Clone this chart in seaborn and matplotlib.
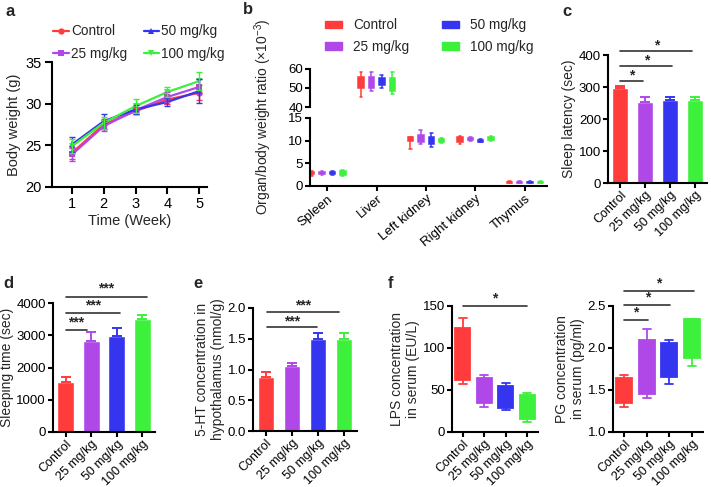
import numpy as np
import pandas as pd
import matplotlib
matplotlib.use("Agg")
import matplotlib.pyplot as plt
import seaborn as sns
from matplotlib.patches import Patch
from matplotlib.lines import Line2D

# ---------------- data ----------------
groups = ["Control", "25 mg/kg", "50 mg/kg", "100 mg/kg"]
colors = ["#FF3B3B", "#B048E8", "#3535F0", "#3CF03C"]
markers = ["o", "s", "^", "v"]

# panel a: body weight
weeks = [1, 2, 3, 4, 5]
bw_control = [24.1, 27.5, 29.1, 30.5, 31.3]
bw_25 = [23.9, 27.3, 29.2, 30.8, 32.0]
bw_50 = [25.1, 27.9, 29.3, 30.2, 31.5]
bw_100 = [24.9, 27.7, 29.7, 31.4, 32.7]
bw_err_control = [0.7, 0.6, 0.4, 0.5, 0.9]
bw_err_25 = [0.8, 0.6, 0.4, 0.6, 0.9]
bw_err_50 = [0.9, 0.9, 0.5, 0.5, 1.4]
bw_err_100 = [0.8, 0.7, 0.8, 0.6, 1.1]

# panel b: organ/body weight ratio, box stats [min, q1, median, q3, max] per group
organs = ["Spleen", "Liver", "Left kidney", "Right kidney", "Thymus"]
spleen = [[2.3, 2.6, 2.8, 3.0, 3.2], [2.4, 2.6, 2.8, 3.0, 3.2], [2.4, 2.6, 2.8, 3.0, 3.2], [2.2, 2.5, 2.9, 3.3, 3.6]]
liver = [[45.5, 50.0, 53.0, 56.0, 58.5], [48.5, 50.0, 52.5, 56.0, 58.5], [50.0, 51.5, 53.0, 55.5, 57.0], [47.0, 48.5, 52.0, 55.0, 58.5]]
left_kidney = [[8.2, 10.0, 10.4, 10.8, 10.9], [9.3, 9.8, 10.5, 11.3, 12.3], [8.5, 9.3, 10.0, 10.9, 11.8], [9.5, 9.7, 10.0, 10.3, 10.6]]
right_kidney = [[9.2, 9.6, 10.1, 10.7, 11.0], [9.9, 10.1, 10.4, 10.6, 10.8], [9.7, 9.8, 10.0, 10.2, 10.4], [10.0, 10.2, 10.5, 10.8, 11.1]]
thymus = [[0.6, 0.7, 0.8, 0.9, 1.0], [0.6, 0.7, 0.8, 0.9, 1.0], [0.6, 0.7, 0.8, 0.9, 1.0], [0.6, 0.7, 0.8, 0.9, 1.0]]

# panel c: sleep latency
latency_mean = [296, 253, 259, 259]
latency_err = [7, 15, 9, 9]
# panel d: sleeping time
sleep_mean = [1560, 2820, 2990, 3510]
sleep_err = [150, 280, 220, 130]
# panel e: 5-HT
ht_mean = [0.87, 1.06, 1.49, 1.49]
ht_err = [0.09, 0.05, 0.10, 0.11]
# panel f: LPS and PG box stats [min, q1, median, q3, max]
lps = [[57, 62.3, 92, 124, 136], [30, 35, 50, 64.7, 67.5], [26, 28, 42, 55, 58.7], [12, 16, 30, 44, 46.4]]
pg = [[1.30, 1.345, 1.50, 1.647, 1.675], [1.40, 1.45, 1.80, 2.09, 2.23], [1.575, 1.65, 1.85, 2.06, 2.10], [1.79, 1.885, 2.10, 2.35, 2.35]]

# ---------------- style ----------------
sns.set_style("ticks")
plt.rcParams["font.family"] = ["Liberation Sans", "DejaVu Sans"]
plt.rcParams["mathtext.default"] = "regular"
plt.rcParams["axes.linewidth"] = 1.5
plt.rcParams["xtick.major.width"] = 1.5
plt.rcParams["ytick.major.width"] = 1.5
plt.rcParams["xtick.major.size"] = 3.5
plt.rcParams["ytick.major.size"] = 3.5
plt.rcParams["xtick.color"] = "black"
plt.rcParams["ytick.color"] = "black"
plt.rcParams["axes.edgecolor"] = "black"

W, H = 711, 487
fig = plt.figure(figsize=(W / 100, H / 100), dpi=100)


def rect(l, r, t, b):
    return [l / W, 1 - b / H, (r - l) / W, (b - t) / H]


def style(ax, size=9.5):
    sns.despine(ax=ax)
    ax.tick_params(labelsize=size, pad=1.5)


def sig(ax, x0, x1, y, label, off):
    ax.plot([x0, x1], [y, y], color="#333333", lw=1.2, clip_on=False)
    ax.text((x0 + x1) / 2, y + off, label, ha="center", va="center",
            fontsize=10, fontweight="bold", clip_on=False)


# ---------------- panel a ----------------
ax = fig.add_axes(rect(52, 207, 62, 187))
bw_all = [bw_control, bw_25, bw_50, bw_100]
bw_err_all = [bw_err_control, bw_err_25, bw_err_50, bw_err_100]
dfa = pd.DataFrame({
    "week": weeks * 4,
    "weight": sum(bw_all, []),
    "group": sum([[g] * len(weeks) for g in groups], []),
})
sns.lineplot(data=dfa, x="week", y="weight", hue="group", style="group",
             hue_order=groups, style_order=groups, palette=colors,
             markers=markers, dashes=False, markersize=4.5, linewidth=1.6,
             markeredgewidth=0, legend=False, ax=ax)
for vals, errs, c in zip(bw_all, bw_err_all, colors):
    ax.errorbar(weeks, vals, yerr=errs, fmt="none", ecolor=c, elinewidth=1.0,
                capsize=2.5, capthick=1.0)
ax.set_xlim(0.37, 5.25)
ax.set_ylim(20, 35)
ax.set_xticks(weeks)
ax.set_yticks([20, 25, 30, 35])
style(ax, 10.5)
ax.tick_params(length=5, pad=2.5)
ax.set_xlabel("Time (Week)", fontsize=10.5, labelpad=2)
ax.set_ylabel("Body weight (g)", fontsize=10.5, labelpad=3)
handles = [Line2D([], [], color=c, marker=m, markersize=4.5, lw=1.6, markeredgewidth=0)
           for c, m in zip(colors, markers)]
ax.legend(handles, groups, ncol=2, frameon=False, fontsize=9.8,
          loc="lower left", bbox_to_anchor=(0.0, 1.0), handlelength=1.15,
          handletextpad=0.15, columnspacing=1.2, labelspacing=0.6,
          borderaxespad=0.0, borderpad=0.1)
fig.text(10 / W, 1 - 11 / H, "a", fontsize=12, fontweight="bold", ha="center", va="center")

# ---------------- panel b ----------------
rows = []
for organ, stats in zip(organs, [spleen, liver, left_kidney, right_kidney, thymus]):
    for g, vals in zip(groups, stats):
        for v in vals:
            rows.append((organ, g, v))
dfb = pd.DataFrame(rows, columns=["organ", "group", "ratio"])
pal = dict(zip(groups, colors))
box_w = 0.84
slot = box_w / len(groups)

ax_up = fig.add_axes(rect(310, 547, 69, 107))
ax_lo = fig.add_axes(rect(310, 547, 118, 186))
for axb in (ax_up, ax_lo):
    sns.boxplot(data=dfb, x="organ", y="ratio", hue="group",
                order=organs, hue_order=groups, palette=pal, saturation=1,
                whis=(0, 100), width=box_w, gap=0.48, linewidth=1.1,
                fliersize=0, legend=False, ax=axb)
    # colour every line element like its box
    for ln in axb.lines:
        xd = np.asarray(ln.get_xdata(), dtype=float)
        if xd.size == 0:
            continue
        xm = xd.mean()
        k = int(round((xm - round(xm) + box_w / 2 - slot / 2) / slot))
        k = min(max(k, 0), len(groups) - 1)
        ln.set_color(colors[k])
    for p in axb.patches:
        p.set_edgecolor(p.get_facecolor())
    axb.set_xlim(-0.35, 4.45)
    axb.set_xlabel("")
    axb.set_ylabel("")
    style(axb, 9.5)
ax_up.set_ylim(40, 60)
ax_up.set_yticks([40, 50, 60])
ax_up.spines["bottom"].set_visible(False)
ax_up.tick_params(axis="x", bottom=False, labelbottom=False)
ax_lo.set_ylim(0, 15)
ax_lo.set_yticks([0, 5, 10, 15])
ax_lo.set_xticks(range(len(organs)))
ax_lo.set_xticklabels(organs, rotation=40, ha="right", rotation_mode="anchor", fontsize=9.5)
fig.text(263 / W, 1 - 117 / H, "Organ/body weight ratio (×10$^{-3}$)", rotation=90,
         ha="center", va="center", fontsize=10)
bhandles = [Patch(facecolor=c, edgecolor=c) for c in colors]
ax_up.legend(bhandles, groups, ncol=2, frameon=False, fontsize=9.8,
             loc="lower left", bbox_to_anchor=(0.065, 1.4), handlelength=1.25,
             handleheight=0.45, handletextpad=0.8, columnspacing=2.4, labelspacing=0.55,
             borderaxespad=0.0, borderpad=0.0)
fig.text(248 / W, 1 - 10 / H, "b", fontsize=12, fontweight="bold", ha="center", va="center")


# ---------------- bar panels ----------------
def bar_panel(r, means, errs, ylim, yticks, ylabel, label_pos, label, ytickfmt=None):
    ax = fig.add_axes(rect(*r))
    sns.barplot(x=groups, y=means, hue=groups, palette=colors, saturation=1,
                width=0.65, legend=False, ax=ax)
    for i, (m, e, c) in enumerate(zip(means, errs, colors)):
        ax.errorbar([i], [m], yerr=[[0], [e]], fmt="none", ecolor=c,
                    elinewidth=1.4, capsize=3.5, capthick=1.4)
    ax.set_xlim(-0.5, 3.5)
    ax.set_ylim(*ylim)
    ax.set_yticks(yticks)
    if ytickfmt:
        ax.set_yticklabels([ytickfmt.format(v) for v in yticks])
    ax.set_xticks(range(4))
    ax.set_xticklabels(groups, rotation=45, ha="right", rotation_mode="anchor")
    style(ax, 9.5)
    ax.tick_params(axis="x", labelsize=9, pad=1)
    ax.set_ylabel(ylabel, fontsize=10, labelpad=2)
    fig.text(label_pos[0] / W, 1 - label_pos[1] / H, label, fontsize=12,
             fontweight="bold", ha="center", va="center")
    return ax


axc = bar_panel((608, 707, 55, 183), latency_mean, latency_err, (0, 400),
                [0, 100, 200, 300, 400], "Sleep latency (sec)", (567, 12), "c")
sig(axc, 0, 0.92, 319, "*", 18)
sig(axc, 0, 2.09, 366, "*", 18)
sig(axc, 0, 2.9, 412, "*", 18)

axd = bar_panel((53, 155, 303, 432), sleep_mean, sleep_err, (0, 4000),
                [0, 1000, 2000, 3000, 4000], "Sleeping time (sec)", (8, 283), "d")
sig(axd, 0, 0.83, 3163, "***", 240)
sig(axd, 0, 2.13, 3690, "***", 240)
sig(axd, 0, 3.19, 4186, "***", 260)

axe = bar_panel((253, 357, 308, 431), ht_mean, ht_err, (0, 2.0),
                [0, 0.5, 1.0, 1.5, 2.0], "5-HT concentration in\nhypothalamus (nmol/g)",
                (198, 284), "e", "{:.1f}")
sig(axe, 0.05, 1.96, 1.69, "***", 0.09)
sig(axe, 0.05, 2.8, 1.935, "***", 0.11)


# ---------------- box panels f ----------------
def box_panel(r, stats, ylim, yticks, ylabel, ytickfmt=None):
    ax = fig.add_axes(rect(*r))
    for g, c, vals in zip(groups, colors, stats):
        sns.boxplot(x=[g] * len(vals), y=vals, order=groups, color=c, saturation=1,
                    linecolor=c, linewidth=1.3, whis=(0, 100), width=0.7,
                    fliersize=0, ax=ax)
    ax.set_xlim(-0.5, 3.5)
    ax.set_ylim(*ylim)
    ax.set_yticks(yticks)
    if ytickfmt:
        ax.set_yticklabels([ytickfmt.format(v) for v in yticks])
    ax.set_xticks(range(4))
    ax.set_xticklabels(groups, rotation=45, ha="right", rotation_mode="anchor")
    style(ax, 9.5)
    ax.tick_params(axis="x", labelsize=9, pad=1)
    ax.set_ylabel(ylabel, fontsize=10, labelpad=2)
    return ax


axf1 = box_panel((452, 538, 306, 432), lps, (0, 150), [0, 50, 100, 150],
                 "LPS concentration\nin serum (EU/L)")
sig(axf1, 0, 3, 150, "*", 9)
axf2 = box_panel((613, 703, 306, 432), pg, (1.0, 2.5), [1.0, 1.5, 2.0, 2.5],
                 "PG concentration\nin serum (pg/ml)", "{:.1f}")
sig(axf2, 0, 1.05, 2.333, "*", 0.09)
sig(axf2, 0, 2.05, 2.512, "*", 0.09)
sig(axf2, 0, 3.09, 2.68, "*", 0.09)
fig.text(391 / W, 1 - 284 / H, "f", fontsize=12, fontweight="bold", ha="center", va="center")

fig.savefig("out.png", dpi=100)
